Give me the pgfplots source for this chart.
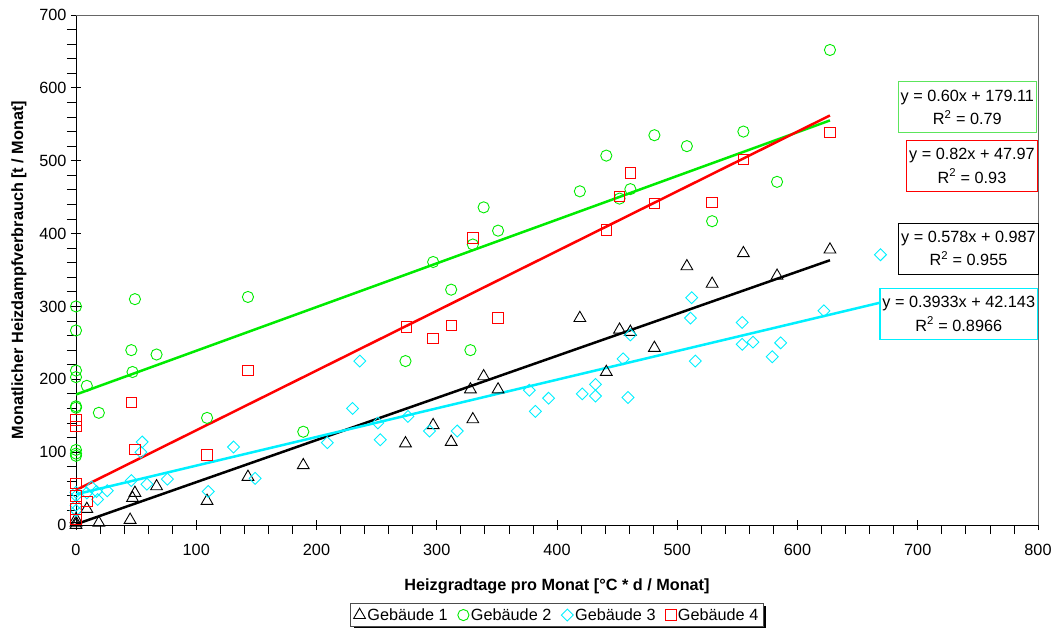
\documentclass[border=0pt]{standalone}
\usepackage{pgfplots}
\pgfplotsset{compat=1.18}
\usepackage{fontspec}
\setmainfont{Liberation Sans}
\usetikzlibrary{shadows}
\newcommand\fs{\fontsize{16.3}{19.5}\selectfont}
\definecolor{cG}{RGB}{0,235,0}
\definecolor{cC}{RGB}{0,240,255}
\definecolor{cR}{RGB}{255,0,0}
\begin{document}
\begin{tikzpicture}
\useasboundingbox (-76bp,-103bp) rectangle (978bp,525bp);
\begin{axis}[
  scale only axis, width=962bp, height=510bp,
  xmin=0, xmax=800, ymin=0, ymax=700,
  xtick={0,100,...,800}, ytick={0,100,...,700},
  minor tick num=4,
  axis x line=bottom, axis y line=left,
  axis line style={-, line width=0.9bp},
  tick align=center,
  major tick length=10bp, minor tick length=9bp,
  minor x tick style={yshift=-4.5bp},
  minor y tick style={xshift=-4.5bp},
  tick style={black, line width=0.8bp},
  /pgf/number format/assume math mode=true,
  tick label style={font=\fs},
  xticklabel style={yshift=-11bp},
  yticklabel style={xshift=-1bp},
  label style={font=\fs\bfseries},
  xlabel={Heizgradtage pro Monat [°C * d / Monat]},
  ylabel={Monatlicher Heizdampfverbrauch [t / Monat]},
  xlabel style={at={(axis description cs:0.5,-0.1290)}, anchor=base},
  ylabel style={at={(axis description cs:-0.0592,0.5)}, anchor=center},
  legend columns=4,
  legend style={at={(axis description cs:0.5,-0.153)}, anchor=north, font=\fs,
    draw=black!70, line width=0.8bp, fill=white, inner xsep=3bp, inner ysep=3bp,
    drop shadow={shadow xshift=3bp, shadow yshift=-3bp, fill=black, opacity=1},
    /tikz/every even column/.append style={column sep=8bp}},
  legend image post style={line width=0.9bp},
  clip=false,
]
\addplot[only marks, mark=triangle, black, mark size=6.8bp, line width=0.9bp] table {
x y
0 0
0 3
0 8
9 22
19 3
45 7
47 37
49 44
67 53
109 33
143 66
189 82
274 112
297 137
312 114
328 186
330 145
339 204
351 186
419 284
441 210
452 268
461 265
481 243
508 355
529 331
555 373
583 342
627 378
};
\addlegendentry{Gebäude 1}
\addplot[only marks, mark=o, cG, mark size=5.6bp, line width=0.9bp] table {
x y
0 300
0 267
0 212
0 203
0 163
0 161
0 103
0 98
0 95
9 191
19 154
46 240
47 210
49 310
67 234
109 147
143 313
189 128
274 225
297 361
312 323
328 240
330 385
339 436
351 404
419 458
441 507
452 448
461 461
481 535
508 520
529 417
555 540
583 471
627 652
};
\addlegendentry{Gebäude 2}
\addplot[only marks, mark=square, mark options={rotate=45}, cC, mark size=4.2bp, line width=0.9bp] table {
x y
0 20
0 27
0 40
0 45
9 44
13 52
17 46
18 35
26 47
46 61
54 100
55 114
59 56
76 63
110 46
131 107
149 64
209 113
230 160
236 225
251 140
253 117
276 149
294 129
317 129
377 185
382 156
393 174
421 180
432 193
432 177
455 228
459 175
461 261
511 284
512 312
515 225
554 278
554 248
563 251
579 231
586 250
622 294
669 371
};
\addlegendentry{Gebäude 3}
\addplot[only marks, mark=square, cR, mark size=5.2bp, line width=0.9bp] table {
x y
0 8
0 22
0 40
0 57
0 135
0 144
9 32
46 168
49 104
109 96
143 212
275 272
297 256
312 274
330 394
351 284
441 405
452 451
461 483
481 441
529 443
555 502
627 539
};
\addlegendentry{Gebäude 4}
% trend lines
\addplot[forget plot, black, line width=2.5bp] coordinates {(0,0.987) (627,363.39)};
\addplot[forget plot, cG, line width=2.5bp] coordinates {(0,179.11) (627,555.31)};
\addplot[forget plot, cC, line width=2.5bp] coordinates {(0,42.143) (669,305.26)};
\addplot[forget plot, cR, line width=2.5bp] coordinates {(0,47.97) (627,562.11)};
% plot area border (top and right)
\draw[black!60, line width=1bp] (rel axis cs:0,1) -- (rel axis cs:1,1) -- (rel axis cs:1,0);
% equation boxes
\tikzset{eqbox/.style={fill=white, line width=1.2bp, align=center, inner xsep=2.5bp, inner ysep=2.5bp, font=\fontsize{16.3}{23.3}\selectfont, minimum height=51bp}}
\node[eqbox, draw=green!60!white!90!black] at (axis cs:741.2,573.3) {y = 0.60x + 179.11\\R\textsuperscript{2} = 0.79};
\node[eqbox, draw=cR] at (axis cs:745.1,492.9) {y = 0.82x + 47.97\\R\textsuperscript{2} = 0.93};
\node[eqbox, draw=black] at (axis cs:742.2,379.2) {y = 0.578x + 0.987\\R\textsuperscript{2} = 0.955};
\node[eqbox, draw=cC] at (axis cs:734.1,289.7) {y = 0.3933x + 42.143\\R\textsuperscript{2} = 0.8966};
\end{axis}
\end{tikzpicture}
\end{document}
